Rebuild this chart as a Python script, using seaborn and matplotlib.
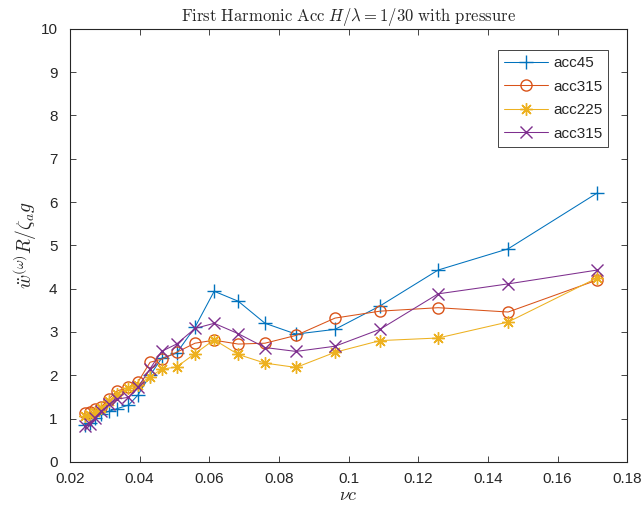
import matplotlib
matplotlib.use("Agg")
import matplotlib.pyplot as plt
import seaborn as sns
import pandas as pd

# Nondimensional frequency
nu_c = [0.0243, 0.0257, 0.0272, 0.0290, 0.0313, 0.0336, 0.0368, 0.0395, 0.0430,
        0.0463, 0.0506, 0.0559, 0.0614, 0.0683, 0.0760, 0.0849, 0.0961, 0.1090,
        0.1257, 0.1458, 0.1714]

# First-harmonic accelerations at each gauge
acc45 = [0.86, 0.90, 1.02, 1.10, 1.17, 1.23, 1.31, 1.54, 2.00, 2.39, 2.51, 3.11,
         3.94, 3.71, 3.20, 2.95, 3.06, 3.60, 4.43, 4.92, 6.21]
acc315 = [1.12, 1.15, 1.21, 1.27, 1.46, 1.64, 1.72, 1.84, 2.30, 2.37, 2.53, 2.74,
          2.81, 2.72, 2.74, 2.92, 3.32, 3.48, 3.56, 3.46, 4.20]
acc225 = [1.05, 1.09, 1.15, 1.25, 1.41, 1.56, 1.70, 1.78, 1.96, 2.14, 2.19, 2.50,
          2.82, 2.48, 2.28, 2.18, 2.53, 2.80, 2.86, 3.23, 4.25]
acc315_b = [0.82, 0.88, 1.02, 1.17, 1.33, 1.45, 1.49, 1.72, 2.15, 2.55, 2.72, 3.08,
            3.20, 2.96, 2.64, 2.55, 2.67, 3.06, 3.88, 4.11, 4.43]

series_labels = ["acc45", "acc315", "acc225", "acc315"]
series_values = [acc45, acc315, acc225, acc315_b]
# '+', open circle, 8-spoke asterisk, 'x'
series_markers = ["+", "o", (8, 2, 0), "x"]
series_sizes = [10, 8, 9, 8]
series_colors = ["#0072BD", "#D95319", "#EDB120", "#7E2F8E"]

x_ticks = [0.02, 0.04, 0.06, 0.08, 0.10, 0.12, 0.14, 0.16, 0.18]
x_tick_labels = ["0.02", "0.04", "0.06", "0.08", "0.1", "0.12", "0.14", "0.16", "0.18"]
y_ticks = list(range(0, 11))

sns.set_style("white")
plt.rcParams["font.family"] = ["Liberation Sans", "DejaVu Sans"]
plt.rcParams["mathtext.fontset"] = "cm"

fig = plt.figure(figsize=(6.42, 5.16), dpi=100)
ax = fig.add_axes([0.109, 0.105, 0.868, 0.839])

for label, vals, mk, ms, col in zip(series_labels, series_values, series_markers,
                                    series_sizes, series_colors):
    df = pd.DataFrame({"nu": nu_c, "acc": vals})
    sns.lineplot(data=df, x="nu", y="acc", ax=ax, color=col, marker=mk,
                 markersize=ms, markerfacecolor="none",
                 markeredgecolor=col, markeredgewidth=1.0, linewidth=0.75,
                 estimator=None, sort=False, label=label)

ax.set_xlim(0.02, 0.18)
ax.set_ylim(0, 10)
ax.set_xticks(x_ticks)
ax.set_xticklabels(x_tick_labels)
ax.set_yticks(y_ticks)

axis_gray = "#262626"
for sp in ax.spines.values():
    sp.set_visible(True)
    sp.set_color(axis_gray)
    sp.set_linewidth(0.8)
ax.tick_params(direction="in", length=4, width=0.6, colors=axis_gray,
               labelsize=11, top=True, right=True, bottom=True, left=True,
               labelcolor="#262626")
ax.tick_params(axis="x", pad=7)
ax.tick_params(axis="y", pad=9)

ax.set_title(r"$\mathrm{First\ Harmonic\ Acc}\ H/\lambda = 1/30\ \mathrm{with\ pressure}$",
             fontsize=12, pad=6)
ax.set_xlabel(r"$\nu c$", fontsize=13, labelpad=1)
ax.set_ylabel(r"$\ddot{w}^{(\omega)}R/\zeta_a g$", fontsize=14, labelpad=1)

leg = ax.legend(loc="upper right", bbox_to_anchor=(0.966, 0.951), fontsize=11,
                frameon=True, fancybox=False, framealpha=1, edgecolor=axis_gray,
                handlelength=2.9, borderpad=0.4, labelspacing=0.62, handletextpad=0.3,
                borderaxespad=0)
leg.get_frame().set_linewidth(0.6)

fig.savefig("out.png", dpi=100)
